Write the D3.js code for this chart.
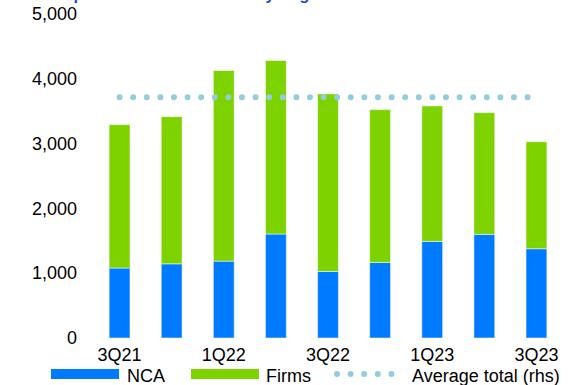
<!DOCTYPE html>
<html>
<head>
<meta charset="utf-8">
<script src="https://cdn.jsdelivr.net/npm/d3@7"></script>
<style>
    body { margin: 0; background: white; }
    text { font-family: Arial, "Liberation Sans", sans-serif; }
</style>
</head>
<body>
<div id="chart"></div>
<script>
// DATA
const quarters = ['3Q21', '4Q21', '1Q22', '2Q22', '3Q22', '4Q22', '1Q23', '2Q23', '3Q23'];
const tickQuarters = ['3Q21', '1Q22', '3Q22', '1Q23', '3Q23'];
const ncaValues = [1080, 1145, 1187, 1605, 1027, 1166, 1491, 1600, 1378];
const firmsValues = [2213, 2271, 2941, 2678, 2740, 2359, 2090, 1878, 1651];
const averageTotal = [3715, 3715, 3715, 3715, 3715, 3715, 3715, 3715, 3715];
const yTicks = [0, 1000, 2000, 3000, 4000, 5000];

const width = 571;
const height = 385;

const blue = '#007bff';
const green = '#7dd200';
const dotColor = '#93cddd';

const svg = d3
    .select('#chart')
    .append('svg')
    .attr('width', width)
    .attr('height', height);

// TITLE (CUT OFF AT THE TOP, AS IN THE SOURCE)
svg
    .append('text')
    .text('Complaints received in total by origin')
    .attr('x', 38)
    .attr('y', 0)
    .style('font-size', '16px')
    .style('font-weight', 'bold')
    .style('fill', '#1a47c8');

// SCALES
const xScale = d3
    .scaleBand()
    .domain(quarters)
    .range([93.5, 562.5])
    .paddingInner(0.6)
    .paddingOuter(0.3);

const yScale = d3
    .scaleLinear()
    .domain([0, 5000])
    .range([338, 14]);

// Y AXIS
const yAxis = svg
    .append('g')
    .attr('transform', 'translate(77,0)')
    .call(d3.axisLeft(yScale).tickValues(yTicks).tickFormat(d3.format(',')).tickSize(0).tickPadding(0));
yAxis.select('.domain').remove();
yAxis.selectAll('text')
    .style('font-size', '18px')
    .style('fill', '#000')
    .style('font-family', 'Arial, "Liberation Sans", sans-serif');

// X AXIS
const xAxis = svg
    .append('g')
    .attr('transform', 'translate(0,361)')
    .call(d3.axisBottom(xScale).tickValues(tickQuarters).tickSize(0).tickPadding(0));
xAxis.select('.domain').remove();
xAxis.selectAll('text')
    .attr('dy', 0)
    .style('font-size', '18px')
    .style('fill', '#000')
    .style('font-family', 'Arial, "Liberation Sans", sans-serif');

// STACKED BARS
const rows = quarters.map((q, i) => ({ quarter: q, nca: ncaValues[i], firms: firmsValues[i] }));
const stack = d3.stack().keys(['nca', 'firms'])(rows);
const colors = { nca: blue, firms: green };

svg
    .append('g')
    .selectAll('g')
    .data(stack)
    .enter()
    .append('g')
    .attr('fill', d => colors[d.key])
    .selectAll('rect')
    .data(d => d)
    .enter()
    .append('rect')
    .attr('x', d => xScale(d.data.quarter))
    .attr('y', d => yScale(d[1]))
    .attr('width', xScale.bandwidth())
    .attr('height', d => yScale(d[0]) - yScale(d[1]))
    .attr('stroke', 'white')
    .attr('stroke-opacity', 0.5)
    .attr('stroke-width', 1);

// AVERAGE LINE (DOTTED)
const line = d3
    .line()
    .x((d, i) => xScale(quarters[i]) + xScale.bandwidth() / 2)
    .y(d => yScale(d));

svg
    .append('path')
    .datum(averageTotal)
    .attr('d', line)
    .attr('fill', 'none')
    .attr('stroke', dotColor)
    .attr('stroke-width', 6)
    .attr('stroke-linecap', 'round')
    .attr('stroke-dasharray', '0,13.6');

// LEGEND
const legend = svg.append('g').attr('transform', 'translate(0,374)');

legend.append('rect')
    .attr('x', 51).attr('y', -5).attr('width', 68).attr('height', 10)
    .attr('fill', blue);
legend.append('text')
    .text('NCA')
    .attr('x', 127).attr('y', 7.5)
    .style('font-size', '18px');

legend.append('rect')
    .attr('x', 191).attr('y', -5).attr('width', 68).attr('height', 10)
    .attr('fill', green);
legend.append('text')
    .text('Firms')
    .attr('x', 266).attr('y', 7.5)
    .style('font-size', '18px');

legend.append('line')
    .attr('x1', 337).attr('x2', 392).attr('y1', 0).attr('y2', 0)
    .attr('stroke', dotColor)
    .attr('stroke-width', 6)
    .attr('stroke-linecap', 'round')
    .attr('stroke-dasharray', '0,13.6');
legend.append('text')
    .text('Average total (rhs)')
    .attr('x', 412).attr('y', 7.5)
    .style('font-size', '18px');
</script>
</body>
</html>
